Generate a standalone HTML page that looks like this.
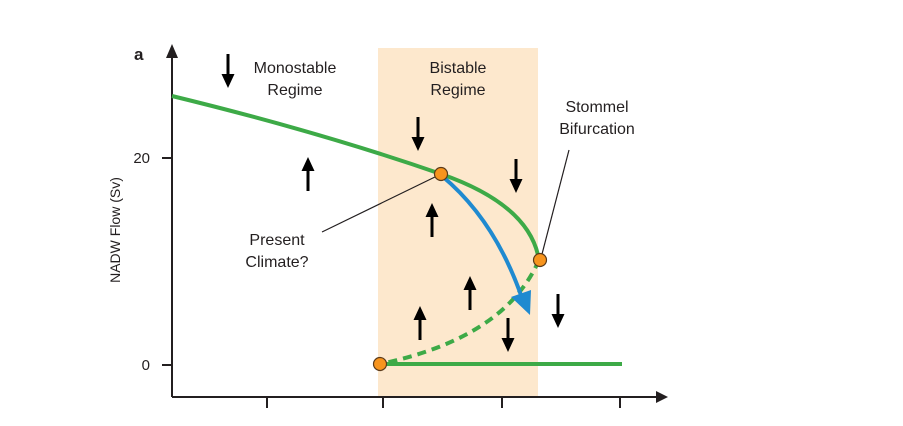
<!DOCTYPE html>
<html><head><style>body{margin:0;background:#fff}svg{display:block}text{font-family:"Liberation Sans",sans-serif;fill:#231f20}</style></head><body>
<svg width="903" height="426" viewBox="0 0 903 426" xmlns="http://www.w3.org/2000/svg">
<rect x="378" y="48" width="160" height="349" fill="#fde8cd"/>
<g stroke="#231f20" stroke-width="2" fill="none">
<line x1="172" y1="397" x2="172" y2="56"/>
<line x1="172" y1="397" x2="658" y2="397"/>
<line x1="162" y1="158" x2="172" y2="158"/>
<line x1="162" y1="365" x2="172" y2="365"/>
<line x1="267" y1="397" x2="267" y2="408"/>
<line x1="383" y1="397" x2="383" y2="408"/>
<line x1="502" y1="397" x2="502" y2="408"/>
<line x1="620" y1="397" x2="620" y2="408"/>
</g>
<path d="M166,58 L172,44 L178,58 z" fill="#231f20"/>
<path d="M656,391 L668,397 L656,403 z" fill="#231f20"/>
<text x="150" y="163" font-size="15" text-anchor="end">20</text>
<text x="150" y="370" font-size="15" text-anchor="end">0</text>
<text x="134" y="60" font-size="17" font-weight="bold">a</text>
<text transform="translate(120,230) rotate(-90)" font-size="14" text-anchor="middle">NADW Flow (Sv)</text>
<g stroke="#231f20" stroke-width="1.2">
<line x1="437" y1="176" x2="322" y2="232"/>
<line x1="569" y1="150" x2="541" y2="258"/>
</g>
<path d="M172,96 Q320,132 441,174 Q530,205 539,260" stroke="#3daa47" stroke-width="4" fill="none"/>
<path d="M539,260 Q505,338 380,364" stroke="#3daa47" stroke-width="4" fill="none" stroke-dasharray="9,6"/>
<line x1="380" y1="364" x2="622" y2="364" stroke="#3daa47" stroke-width="4"/>
<path d="M442,176 Q495,220 522,298" stroke="#1f8ad0" stroke-width="4" fill="none"/>
<path d="M511,297 L530,315 L531,290 z" fill="#1f8ad0"/>
<g fill="#f7941d" stroke="#5a3a1a" stroke-width="1.2">
<circle cx="441" cy="174" r="6.5"/>
<circle cx="540" cy="260" r="6.5"/>
<circle cx="380" cy="364" r="6.5"/>
</g>
<g fill="#000">
<!-- down arrows: x, top, tip -->
<path d="M226.5,54h3v20h5l-6.5,14l-6.5,-14h5z"/>
<path d="M416.5,117h3v20h5l-6.5,14l-6.5,-14h5z"/>
<path d="M514.5,159h3v20h5l-6.5,14l-6.5,-14h5z"/>
<path d="M506.5,318h3v20h5l-6.5,14l-6.5,-14h5z"/>
<path d="M556.5,294h3v20h5l-6.5,14l-6.5,-14h5z"/>
<!-- up arrows -->
<path d="M306.5,191h3v-20h5l-6.5,-14l-6.5,14h5z"/>
<path d="M430.5,237h3v-20h5l-6.5,-14l-6.5,14h5z"/>
<path d="M468.5,310h3v-20h5l-6.5,-14l-6.5,14h5z"/>
<path d="M418.5,340h3v-20h5l-6.5,-14l-6.5,14h5z"/>
</g>
<g font-size="16" text-anchor="middle">
<text x="295" y="73">Monostable</text><text x="295" y="95">Regime</text>
<text x="458" y="73">Bistable</text><text x="458" y="95">Regime</text>
<text x="597" y="112">Stommel</text><text x="597" y="134">Bifurcation</text>
<text x="277" y="245">Present</text><text x="277" y="267">Climate?</text>
</g>
</svg>
</body></html>
